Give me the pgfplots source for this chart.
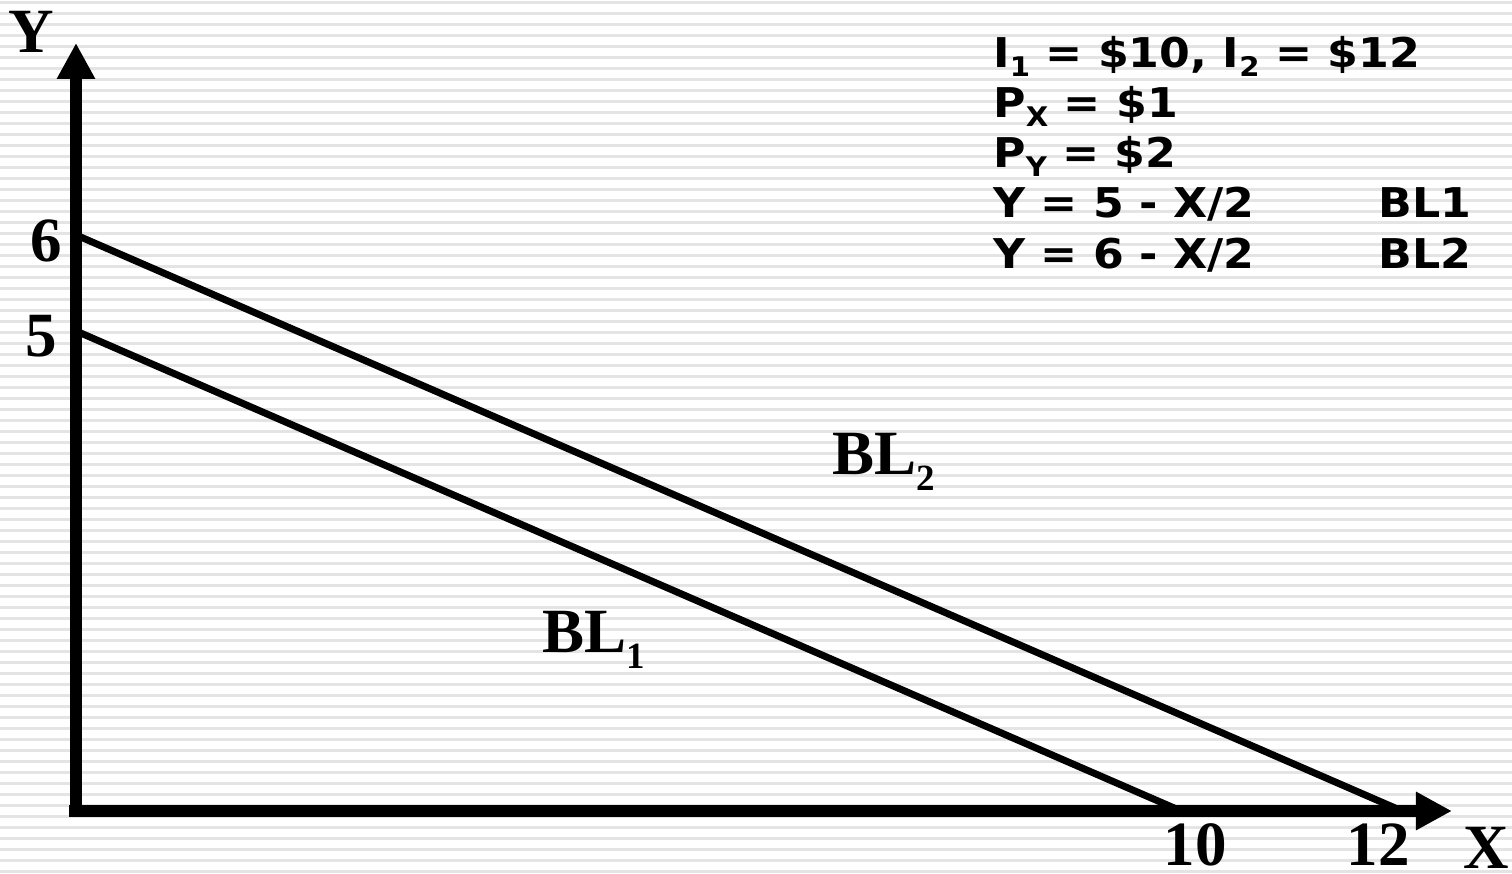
\documentclass[border=0pt]{standalone}
\usepackage{pgfplots}
\pgfplotsset{compat=1.18}
\usetikzlibrary{arrows.meta}
\usepackage{fontspec}
\setmainfont{Liberation Serif}
\newfontfamily\verd{DejaVu Sans}[FakeStretch=1.08]
\definecolor{stripe}{RGB}{228,228,228}
\newcommand\tnr{\fontsize{31.5bp}{31.5bp}\selectfont\bfseries}
\newcommand\vb{\verd\bfseries\fontsize{20.5bp}{20.5bp}\selectfont}
\newcommand\vsub[1]{\raisebox{-4.5bp}{\fontsize{13.5bp}{13.5bp}\selectfont #1}}
\newcommand\tsub[1]{\raisebox{-8bp}{\fontsize{18.5bp}{18.5bp}\selectfont #1}}
\begin{document}
\begin{tikzpicture}[x=1bp,y=1bp]
\fill[white] (0,0) rectangle (756,437);
\foreach \i in {0,...,79} {
  \fill[stripe] (0,{435.05-5.5*\i}) rectangle (756,{436.25-5.5*\i});
}
\begin{axis}[at={(0,0)}, anchor=south west, scale only axis,
  width=756bp, height=437bp,
  xmin=-0.68778, xmax=12.99548, ymin=-0.65625, ymax=8.44792,
  hide axis, clip=false]
\addplot[black, line width=3.5bp] coordinates {(0,5) (10,0)};
\addplot[black, line width=3.5bp] coordinates {(0,6) (12,0)};
\draw[line width=5.75bp, -{Triangle[length=18bp,width=18bp]}] (axis cs:0,-0.06) -- (axis cs:0,8.0);
\draw[line width=5.75bp, -{Triangle[length=18bp,width=18bp]}] (axis cs:-0.06,0) -- (axis cs:12.452,0);
\node[anchor=base west, inner sep=0] at (axis cs:-0.6154,7.906) {\tnr Y};
\node[anchor=base west, inner sep=0] at (axis cs:12.552,-0.60) {\tnr X};
\node[anchor=base east, inner sep=0] at (axis cs:-0.1267,5.719) {\tnr 6};
\node[anchor=base east, inner sep=0] at (axis cs:-0.172,4.729) {\tnr 5};
\node[anchor=base, inner sep=0] at (axis cs:10.127,-0.57) {\tnr 10};
\node[anchor=base, inner sep=0] at (axis cs:11.787,-0.57) {\tnr 12};
\node[anchor=base west, inner sep=0] at (axis cs:4.217,1.646) {\tnr BL\tsub{1}};
\node[anchor=base west, inner sep=0] at (axis cs:6.842,3.5) {\tnr BL\tsub{2}};
\node[anchor=base west, inner sep=0] at (axis cs:8.299,7.740) {\vb I\vsub{1} = \$10, I\vsub{2} = \$12};
\node[anchor=base west, inner sep=0] at (axis cs:8.299,7.219) {\vb P\vsub{X} = \$1};
\node[anchor=base west, inner sep=0] at (axis cs:8.299,6.698) {\vb P\vsub{Y} = \$2};
\node[anchor=base west, inner sep=0] at (axis cs:8.299,6.177) {\vb Y = 5 - X/2};
\node[anchor=base west, inner sep=0] at (axis cs:8.299,5.656) {\vb Y = 6 - X/2};
\node[anchor=base west, inner sep=0] at (axis cs:11.783,6.177) {\vb BL1};
\node[anchor=base west, inner sep=0] at (axis cs:11.783,5.656) {\vb BL2};
\end{axis}
\end{tikzpicture}
\end{document}
